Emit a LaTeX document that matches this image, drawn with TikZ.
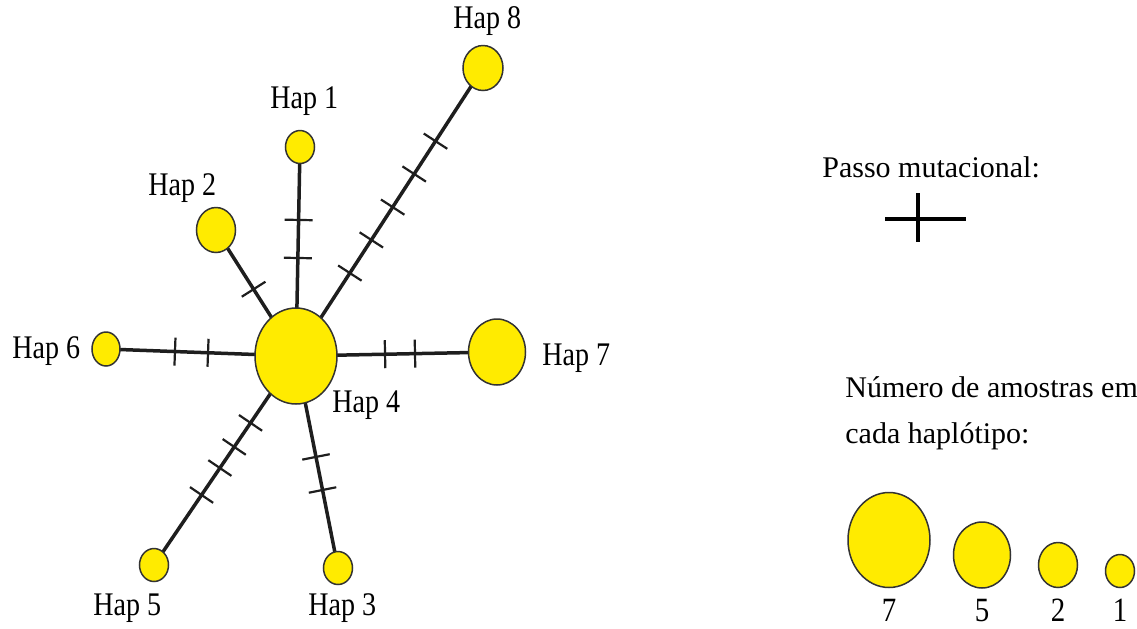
\documentclass[tikz,border=0pt]{standalone}
\usepackage{graphicx}
\usepackage{fontspec}
\setmainfont{Liberation Serif}
\usetikzlibrary{shapes.geometric,backgrounds}
\definecolor{hapyellow}{RGB}{255,235,0}
\definecolor{linedark}{RGB}{30,30,30}
\newcommand{\haplbl}[1]{\scalebox{0.85}[1]{#1}}
\newcommand{\tickmark}{\rule{1.1pt}{14pt}}
\begin{document}
\begin{tikzpicture}[x=0.5pt,y=-0.5pt,
  hap/.style={ellipse, draw=black!80, line width=0.75pt, fill=hapyellow, inner sep=0pt},
  sz1/.style={hap, minimum width=14.5pt, minimum height=16.5pt},
  sz2/.style={hap, minimum width=19.5pt, minimum height=22.5pt},
  sz5/.style={hap, minimum width=28.5pt, minimum height=33pt},
  sz7/.style={hap, minimum width=41pt, minimum height=48pt},
  edge/.style={line width=1.75pt, draw=linedark},
  tk/.style={sloped, pos=#1, inner sep=0pt, text=linedark},
  lbl/.style={anchor=base west, inner sep=0pt, font=\fontsize{16.5}{19}\selectfont},
  txt/.style={anchor=base west, inner sep=0pt, font=\fontsize{15}{18}\selectfont},
  dig/.style={anchor=base, inner sep=0pt, font=\fontsize{17}{20}\selectfont},
  crossline/.style={line width=1.75pt, draw=black}
  ]
\useasboundingbox (0,0) rectangle (1137,628);

% haplotype network nodes
\node[sz7] (h4) at (296,356) {};
\node[sz1] (h1) at (300,147) {};
\node[sz2] (h2) at (216,230) {};
\node[sz1] (h3) at (338,568) {};
\node[sz1] (h5) at (154,565) {};
\node[sz1, minimum width=14pt, minimum height=17pt] (h6) at (106,349) {};
\node[sz5] (h7) at (497,352) {};
\node[sz2, minimum width=20pt] (h8) at (483,68) {};

% edges with mutational steps
\begin{scope}[on background layer]
\draw[edge] (h4.center) -- (h1.center) node[tk=0.469]{\tickmark} node[tk=0.651]{\tickmark};
\draw[edge] (h4.center) -- (h2.center) node[tk=0.53]{\tickmark};
\draw[edge] (h4.center) -- (h8.center) node[tk=0.288]{\tickmark} node[tk=0.403]{\tickmark}
  node[tk=0.517]{\tickmark} node[tk=0.632]{\tickmark} node[tk=0.746]{\tickmark};
\draw[edge] (h4.center) -- (h6.center) node[tk=0.463]{\tickmark} node[tk=0.637]{\tickmark};
\draw[edge] (h4.center) -- (h7.center) node[tk=0.443]{\tickmark} node[tk=0.592]{\tickmark};
\draw[edge] (h4.center) -- (h5.center) node[tk=0.32]{\tickmark} node[tk=0.435]{\tickmark}
  node[tk=0.536]{\tickmark} node[tk=0.665]{\tickmark};
\draw[edge] (h4.center) -- (h3.center) node[tk=0.476]{\tickmark} node[tk=0.632]{\tickmark};
\end{scope}

% labels
\node[lbl] (l8) at (453,28) {\haplbl{Hap 8}};
\node[lbl] (l1) at (270,108) {\haplbl{Hap 1}};
\node[lbl] (l2) at (148,195) {\haplbl{Hap 2}};
\node[lbl] (l6) at (12,358) {\haplbl{Hap 6}};
\node[lbl] (l7) at (542,365) {\haplbl{Hap 7}};
\node[lbl] (l4) at (332,412) {\haplbl{Hap 4}};
\node[lbl] (l5) at (93,615) {\haplbl{Hap 5}};
\node[lbl] (l3) at (308,615) {\haplbl{Hap 3}};

% legend: mutational step
\node[txt] (passo) at (822,177) {Passo mutacional:};
\coordinate (cvt) at (918,193);
\coordinate (cvb) at (918,242);
\coordinate (chl) at (885,219);
\coordinate (chr) at (966,219);
\draw[crossline] (cvt) -- (cvb);
\draw[crossline] (chl) -- (chr);

% legend: sample counts
\node[txt] (num1) at (845,397) {Número de amostras em};
\node[txt] (num2) at (845,443) {cada haplótipo:};
\node[hap, minimum width=41pt, minimum height=47.5pt] (s7) at (889,540) {};
\node[sz5] (s5) at (982,555) {};
\node[sz2] (s2) at (1058,565) {};
\node[sz1] (s1) at (1120,571) {};
\node[dig] (d7) at (889,621) {\haplbl{7}};
\node[dig] (d5) at (982,621) {\haplbl{5}};
\node[dig] (d2) at (1058,621) {\haplbl{2}};
\node[dig] (d1) at (1120,621) {\haplbl{1}};
\end{tikzpicture}
\end{document}
